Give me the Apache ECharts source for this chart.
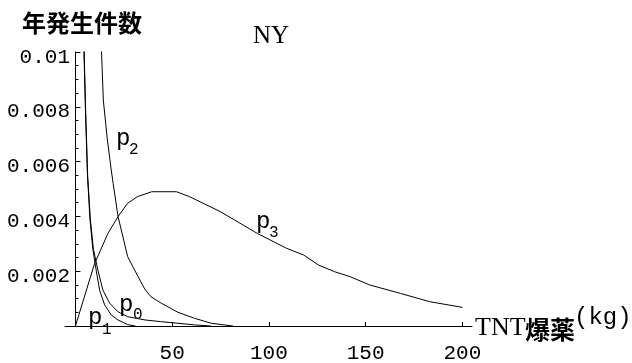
<!DOCTYPE html>
<html><head><meta charset="utf-8">
<script src="https://cdn.jsdelivr.net/npm/echarts@6/dist/echarts.min.js"></script>
<style>html,body{margin:0;padding:0;background:#fff}#c{width:632px;height:363px}</style>
</head><body><div id="c"></div>
<script>
// ---- data (kg of TNT vs annual frequency) ----
const xTickValues = [50, 100, 150, 200];
const titleText = 'NY';
const yName = '年発生件数';
const xNameParts = ['TNT', '爆薬', '(kg)'];
const seriesNames = ['p0', 'p1', 'p2', 'p3'];

const p0Kg  = [3.6, 4.5, 5.3, 6.3, 7.7, 9.3, 11.6, 14.2, 17.7, 22, 27, 36, 44, 53, 61.5, 70];
const p0Val = [0.0125, 0.01, 0.0078, 0.0055, 0.0039, 0.0028, 0.00204, 0.00131, 0.00083, 0.00052, 0.00034, 0.00022, 0.00016, 0.0001, 0.00004, 0];

const p1Kg  = [3.5, 4.4, 5.2, 6.2, 7.5, 9.0, 10.8, 12.5, 15.1, 18.5, 22, 27, 31];
const p1Val = [0.0125, 0.01, 0.0078, 0.0055, 0.0039, 0.0028, 0.0020, 0.0013, 0.00077, 0.0004, 0.00022, 0.00005, 0];

const p2Kg  = [12.8, 13.5, 14.4, 16.5, 18.5, 19.5, 22, 27, 30.6, 35.8, 39, 44.4, 53, 61.6, 70.2, 81.5];
const p2Val = [0.0118, 0.01, 0.00825, 0.0068, 0.0057, 0.0052, 0.004, 0.00253, 0.00204, 0.00135, 0.00107, 0.00083, 0.0005, 0.00028, 0.0001, 0];

const p3Kg  = [0, 9.8, 16.8, 22, 27, 32, 39.4, 52.3, 59, 75, 94, 109, 118, 125.5, 134, 142, 152, 168, 183, 200];
const p3Val = [0, 0.00226, 0.00338, 0.00399, 0.00448, 0.00472, 0.0049, 0.0049, 0.00472, 0.00417, 0.00338, 0.00284, 0.00259, 0.00223, 0.00198, 0.0018, 0.0015, 0.00119, 0.00089, 0.00068];

// ---- build ----
const zip = (a, b) => a.map((v, i) => [v, b[i]]);
const allData = [zip(p0Kg, p0Val), zip(p1Kg, p1Val), zip(p2Kg, p2Val), zip(p3Kg, p3Val)];

const MONO = '"Liberation Mono", monospace';
const SERIF = '"Liberation Serif", serif';
const CJK = '"Noto Sans CJK JP", sans-serif';

function txt(text, x, y, font, align) {
  return { type: 'text', x: x, y: y, silent: true,
    style: { text: text, font: font, fill: '#000',
      align: align || 'left', textAlign: align || 'left',
      verticalAlign: 'middle', textVerticalAlign: 'middle' } };
}

const chart = echarts.init(document.getElementById('c'), null, { renderer: 'canvas' });
chart.setOption({
  animation: false,
  backgroundColor: '#fff',
  grid: { left: 65, right: 160, top: 52, bottom: 37, containLabel: false, outerBoundsMode: 'none' },
  xAxis: {
    type: 'value', min: -5.4, max: 205,
    splitLine: { show: false },
    axisLine: { show: true, onZero: true, lineStyle: { color: '#000', width: 1 } },
    axisTick: { show: true, inside: true, length: 4, customValues: xTickValues, lineStyle: { color: '#000' } },
    axisLabel: { customValues: xTickValues, color: '#000', fontFamily: MONO, fontSize: 21, margin: 17 },
    minorTick: { show: false }
  },
  yAxis: {
    type: 'value', min: 0, max: 0.01, interval: 0.002,
    splitLine: { show: false },
    axisLine: { show: true, onZero: true, lineStyle: { color: '#000', width: 1 } },
    axisTick: { show: true, inside: true, length: 5, lineStyle: { color: '#000' } },
    minorTick: { show: true, splitNumber: 4, length: 3, lineStyle: { color: '#000' } },
    axisLabel: { color: '#000', fontFamily: MONO, fontSize: 21, margin: -5,
      verticalAlign: 'top', lineHeight: 10,
      formatter: v => (v === 0 ? '' : String(+v.toFixed(4))) }
  },
  series: allData.map((d, i) => ({
    name: seriesNames[i], type: 'line', data: d, showSymbol: false, symbol: 'none',
    clip: true, smooth: false,
    lineStyle: { color: '#000', width: 1 }
  })),
  graphic: [
    txt(yName, 22, 23, 'bold 24px ' + CJK),
    txt(titleText, 271, 36, '25px ' + SERIF, 'center'),
    txt(xNameParts[0], 475, 328, '26px ' + SERIF),
    txt(xNameParts[1], 525, 329, 'bold 25px ' + CJK),
    txt(xNameParts[2], 574, 318, '24px ' + MONO),
    txt('p', 116, 139, '24px ' + MONO), txt('2', 129, 150, '16px ' + MONO),
    txt('p', 256, 222, '24px ' + MONO), txt('3', 269, 233, '16px ' + MONO),
    txt('p', 119, 305, '24px ' + MONO), txt('0', 133, 315, '16px ' + MONO),
    txt('p', 88, 318, '24px ' + MONO), txt('1', 102, 330, '16px ' + MONO)
  ]
});
</script></body></html>
